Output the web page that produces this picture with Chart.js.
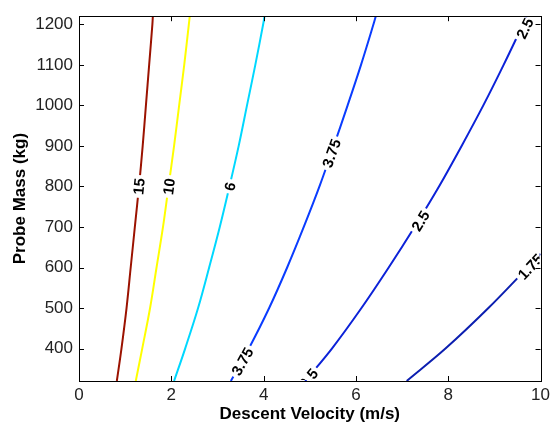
<!DOCTYPE html>
<html>
<head>
<meta charset="utf-8">
<script src="https://cdn.jsdelivr.net/npm/chart.js@4"></script>
<style>
  html, body { margin: 0; padding: 0; background: #fff; }
  #wrap { width: 554px; height: 425px; position: relative; }
</style>
</head>
<body>
<div id="wrap"><canvas id="contourChart"></canvas></div>
<script>
// --- Data ------------------------------------------------------------------
var massLevels   = [320, 400, 500, 600, 700, 800, 900, 1000, 1100, 1200, 1220];
var vel15        = [0.82, 0.92, 1.03, 1.12, 1.21, 1.30, 1.38, 1.45, 1.52, 1.59, 1.60];
var vel10        = [1.23, 1.37, 1.54, 1.68, 1.82, 1.94, 2.06, 2.17, 2.28, 2.38, 2.40];
var vel6         = [2.06, 2.30, 2.58, 2.82, 3.05, 3.26, 3.46, 3.64, 3.82, 3.99, 4.02];
var vel375       = [3.29, 3.68, 4.12, 4.51, 4.87, 5.21, 5.52, 5.82, 6.11, 6.38, 6.43];
var vel25        = [4.90, 5.48, 6.12, 6.71, 7.27, 7.80, 8.29, 8.76, 9.20, 9.62, 9.70];
var massLow      = [320, 400, 500, 600, 634];
var vel175       = [7.10, 7.94, 8.87, 9.72, 10.0];

var xTickValues  = [0, 2, 4, 6, 8, 10];
var yTickValues  = [400, 500, 600, 700, 800, 900, 1000, 1100, 1200];

// contour label text, the line it sits on, and where (velocity, mass)
var labelText    = ['15', '10', '6', '3.75', '3.75', '2.5', '2.5', '2.5', '1.75'];
var labelLine    = [0, 1, 2, 3, 3, 4, 4, 4, 5];
var labelVel     = [1.30, 1.95, 3.27, 5.47, 3.54, 7.40, 4.97, 9.66, 9.78];
var labelMass    = [800, 800, 800, 882, 368, 715, 326, 1190, 602];

function pts(xs, ys){
  return xs.map(function(x, i){ return { x: x, y: ys[i] }; });
}

function lineSet(label, data, color){
  return {
    label: label,
    data: data,
    showLine: true,
    borderColor: color,
    backgroundColor: color,
    borderWidth: 2,
    pointRadius: 0,
    tension: 0.35
  };
}

// --- Plugins ---------------------------------------------------------------
var contourLabels = {
  id: 'contourLabels',
  afterDatasetsDraw: function(chart){
    var ctx = chart.ctx, area = chart.chartArea;
    var xs = chart.scales.x, ys = chart.scales.y;
    ctx.save();
    ctx.beginPath();
    ctx.rect(area.left + 1, area.top + 1, area.right - area.left - 2, area.bottom - area.top - 2);
    ctx.clip();
    ctx.font = 'bold 15px "Liberation Sans", Arial, sans-serif';
    ctx.textAlign = 'center';
    ctx.textBaseline = 'middle';
    labelText.forEach(function(txt, i){
      var data = chart.data.datasets[labelLine[i]].data;
      var m = labelMass[i];
      var k = 0;
      while (k < data.length - 2 && data[k + 1].y < m) k++;
      var p1x = xs.getPixelForValue(data[k].x),     p1y = ys.getPixelForValue(data[k].y);
      var p2x = xs.getPixelForValue(data[k + 1].x), p2y = ys.getPixelForValue(data[k + 1].y);
      var ang = Math.atan2(p2y - p1y, p2x - p1x);
      var px = xs.getPixelForValue(labelVel[i]);
      var py = ys.getPixelForValue(m);
      var w = ctx.measureText(txt).width;
      ctx.save();
      ctx.translate(px, py);
      ctx.rotate(ang);
      ctx.fillStyle = '#ffffff';
      ctx.fillRect(-w / 2 - 3, -7, w + 6, 14);
      ctx.fillStyle = '#000000';
      ctx.fillText(txt, 0, 1);
      ctx.restore();
    });
    ctx.restore();
  }
};

var boxFrame = {
  id: 'boxFrame',
  afterDraw: function(chart){
    var ctx = chart.ctx, a = chart.chartArea;
    var xs = chart.scales.x, ys = chart.scales.y;
    var len = 5;
    ctx.save();
    ctx.strokeStyle = '#000000';
    ctx.lineWidth = 1;
    ctx.beginPath();
    xTickValues.forEach(function(v){
      var x = Math.round(xs.getPixelForValue(v)) + 0.5;
      ctx.moveTo(x, a.bottom); ctx.lineTo(x, a.bottom - len);
      ctx.moveTo(x, a.top);    ctx.lineTo(x, a.top + len);
    });
    yTickValues.forEach(function(v){
      var y = Math.round(ys.getPixelForValue(v)) + 0.5;
      ctx.moveTo(a.left, y);  ctx.lineTo(a.left + len, y);
      ctx.moveTo(a.right, y); ctx.lineTo(a.right - len, y);
    });
    ctx.stroke();
    ctx.strokeRect(Math.round(a.left) + 0.5, Math.round(a.top) + 0.5,
                   Math.round(a.right - a.left), Math.round(a.bottom - a.top));
    ctx.restore();
  }
};

// --- Chart -----------------------------------------------------------------
var tickFont  = { family: '"Liberation Sans", Arial, sans-serif', size: 17 };
var titleFont = { family: '"Liberation Sans", Arial, sans-serif', size: 17, weight: 'bold' };

new Chart(document.getElementById('contourChart').getContext('2d'), {
  type: 'scatter',
  data: {
    datasets: [
      lineSet('15',   pts(vel15,  massLevels), '#9b1200'),
      lineSet('10',   pts(vel10,  massLevels), '#ffff00'),
      lineSet('6',    pts(vel6,   massLevels), '#00d8ff'),
      lineSet('3.75', pts(vel375, massLevels), '#0a3cff'),
      lineSet('2.5',  pts(vel25,  massLevels), '#0c22d8'),
      lineSet('1.75', pts(vel175, massLow),    '#0c1fb0')
    ]
  },
  options: {
    responsive: true,
    maintainAspectRatio: false,
    animation: false,
    layout: { padding: { top: 11, right: 13, left: 0, bottom: 0 } },
    plugins: {
      legend: { display: false },
      tooltip: { enabled: false }
    },
    scales: {
      x: {
        type: 'linear',
        min: 0, max: 10,
        afterBuildTicks: function(s){ s.ticks = xTickValues.map(function(v){ return { value: v }; }); },
        afterFit: function(s){ s.height = 44; },
        grid: { display: false, drawTicks: false },
        border: { display: false },
        ticks: { color: '#222', font: tickFont, padding: 4, maxRotation: 0,
                 callback: function(v){ return String(v); } },
        title: { display: true, text: 'Descent Velocity (m/s)', color: '#000', font: titleFont, padding: 0 }
      },
      y: {
        type: 'linear',
        min: 320, max: 1220,
        afterBuildTicks: function(s){ s.ticks = yTickValues.map(function(v){ return { value: v }; }); },
        afterFit: function(s){ s.width = 79; },
        grid: { display: false, drawTicks: false },
        border: { display: false },
        ticks: { color: '#222', font: tickFont, padding: 6,
                 callback: function(v){ return String(v); } },
        title: { display: true, text: 'Probe Mass (kg)', color: '#000', font: titleFont, padding: { top: 10, bottom: 0 } }
      }
    }
  },
  plugins: [contourLabels, boxFrame]
});
</script>
</body>
</html>
